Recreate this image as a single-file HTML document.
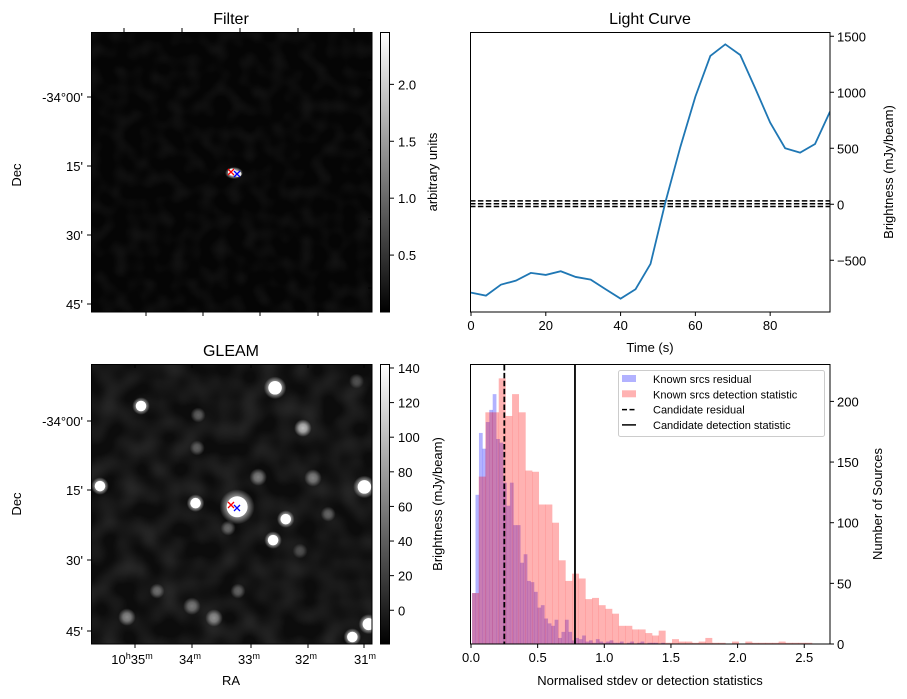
<!DOCTYPE html>
<html><head><meta charset="utf-8">
<style>
html,body{margin:0;padding:0;background:#fff;}
svg{display:block;font-family:"Liberation Sans","DejaVu Sans",sans-serif;}
text{fill:#000;}
</style></head>
<body>
<svg id="fig" width="907" height="699" viewBox="0 0 907 699" xmlns="http://www.w3.org/2000/svg">
<defs>
  <filter id="noiseF" x="0" y="0" width="100%" height="100%">
    <feTurbulence type="fractalNoise" baseFrequency="0.07" numOctaves="1" seed="3"/>
    <feColorMatrix type="matrix" values="0 0 0 0 1  0 0 0 0 1  0 0 0 0 1  1.1 0 0 0 -0.45"/>
  </filter>
  <filter id="noiseG" x="0" y="0" width="100%" height="100%">
    <feTurbulence type="fractalNoise" baseFrequency="0.05" numOctaves="1" seed="7"/>
    <feColorMatrix type="matrix" values="0 0 0 0 1  0 0 0 0 1  0 0 0 0 1  1.2 0 0 0 -0.4"/>
  </filter>
  <radialGradient id="blob">
    <stop offset="0" stop-color="#fff" stop-opacity="1"/>
    <stop offset="0.45" stop-color="#fff" stop-opacity="0.8"/>
    <stop offset="1" stop-color="#fff" stop-opacity="0"/>
  </radialGradient>
  <linearGradient id="cbar" x1="0" y1="1" x2="0" y2="0">
    <stop offset="0" stop-color="#000"/>
    <stop offset="1" stop-color="#fff"/>
  </linearGradient>
  <clipPath id="clipF"><rect x="91" y="32" width="281" height="280"/></clipPath>
  <clipPath id="clipG"><rect x="91" y="364" width="281" height="280"/></clipPath>
  <clipPath id="clipL"><rect x="470" y="32" width="360" height="280"/></clipPath>
</defs>
<g id="root"></g>
</svg>
<script>
// ---------------- data ----------------
const lcTimes = [0,4,8,12,16,20,24,28,32,36,40,44,48,52,56,60,64,68,72,76,80,84,88,92,96];
const lcBrightness = [-789,-816,-718,-682,-613,-631,-598,-649,-673,-759,-843,-759,-533,20,514,961,1324,1428,1333,1036,729,500,461,538,827];
const lcThresholds = [30,5,-20];
const lcXTicks = [0,20,40,60,80];
const lcYTicks = [1500,1000,500,0,-500];

const histRedStart = 0.008, histRedWidth = 0.05;
const histRedCounts = [42,138,191,191,219,188,206,191,143,142,115,115,100,69,52,58,54,37,38,32,29,25,15,15,12,12,9,7,11,1,4,2,2,1,2,5,1,1,0,2,0,2,1,1,1,1,2,1,1,1,1];
const histBlueStart = 0.008, histBlueWidth = 0.0258;
const histBlueCounts = [42,123,174,161,183,193,206,169,166,133,114,133,98,98,67,74,52,51,43,30,32,21,17,15,20,5,10,20,10,3,5,4,7,2,3,1,4,2,1,2,3,1,1,2,0,1,2,0,1,2,0,1,1,1,0,1];
const candResidual = 0.25;
const candDetection = 0.78;
const histXTicks = [0.0,0.5,1.0,1.5,2.0,2.5];
const histYTicks = [0,50,100,150,200];

// GLEAM sources: [ra-pixel-frac, dec-pixel-frac, radius, brightness]
const gleamSources = [
 [0.655,0.085,9,1.0],[0.178,0.150,7,0.95],[0.381,0.182,6,0.4],[0.754,0.229,7,0.85],
 [0.378,0.300,6,0.4],[0.945,0.061,6,0.3],[0.595,0.404,7,0.55],[0.790,0.407,7,0.55],
 [0.032,0.436,7,1.0],[0.973,0.439,9,1.0],[0.372,0.497,7,1.0],[0.520,0.510,14,1.0],
 [0.693,0.554,7,1.0],[0.844,0.536,6,0.4],[0.488,0.586,6,0.45],[0.648,0.629,7,1.0],
 [0.744,0.668,6,0.3],[0.235,0.811,6,0.45],[0.523,0.811,6,0.4],[0.359,0.865,7,0.5],
 [0.128,0.904,7,0.6],[0.438,0.907,7,0.6],[0.930,0.975,7,1.0],[0.988,0.929,8,1.0]
];
const gleamCbarTicks = [0,20,40,60,80,100,120,140];
const filterCbarTicks = [0.5,1.0,1.5,2.0];

// ---------------- helpers ----------------
const NS = "http://www.w3.org/2000/svg";
const root = document.getElementById('root');
function mk(tag, attrs, parent){
  const e = document.createElementNS(NS, tag);
  for (const k in attrs) e.setAttribute(k, attrs[k]);
  (parent||root).appendChild(e);
  return e;
}
function txt(x,y,s,size,anchor,parent,rot){
  const t = mk('text',{x:x,y:y,'font-size':size,'text-anchor':anchor||'middle'},parent);
  if (rot) t.setAttribute('transform','rotate('+rot+' '+x+' '+y+')');
  t.textContent = s;
  return t;
}

// ================= Filter panel =================
const gF = mk('g',{});


const fImg = mk('g',{'clip-path':'url(#clipF)'},gF);


mk('rect',{x:91,y:32,width:281,height:280,fill:'#050505'},fImg);
mk('rect',{x:91,y:32,width:281,height:280,filter:'url(#noiseF)',opacity:0.12},fImg);
mk('ellipse',{cx:234,cy:173,rx:9,ry:6,fill:'url(#blob)'},fImg);
mk('ellipse',{cx:232,cy:172,rx:4,ry:3.5,fill:'#fff'},fImg);
mk('ellipse',{cx:238,cy:174,rx:3.5,ry:3,fill:'#eee'},fImg);
function crosses(parent, rx, ry, bx, by){
  const r = mk('path',{d:`M${rx-3},${ry-3}L${rx+3},${ry+3}M${rx-3},${ry+3}L${rx+3},${ry-3}`,stroke:'red','stroke-width':1.3},parent);
  
  
  const b = mk('path',{d:`M${bx-3},${by-3}L${bx+3},${by+3}M${bx-3},${by+3}L${bx+3},${by-3}`,stroke:'blue','stroke-width':1.3},parent);
  
  
}
crosses(gF,231,172,237,174);
mk('rect',{x:91.5,y:32.5,width:280.5,height:279.5,fill:'none',stroke:'#000','stroke-width':1},gF);
txt(231,24,'Filter',16,'middle',gF);
txt(21,175,'Dec',13,'middle',gF,-90);
const decLabels = ["-34°00'","15'","30'","45'"];
const decY = [97,166,235,304];
decY.forEach((y,i)=>{
  mk('line',{x1:87,x2:91,y1:y,y2:y,stroke:'#000'},gF);
  txt(83,y+5,decLabels[i],13,'end',gF);
  mk('line',{x1:368,x2:372,y1:[80,150,219,288][i],y2:[80,150,219,288][i],stroke:'#000'},gF);
});
[124,182,240,298,354].forEach(x=>mk('line',{x1:x,x2:x,y1:28,y2:32,stroke:'#000'},gF));
[146,203,260,318].forEach(x=>mk('line',{x1:x,x2:x,y1:312,y2:316,stroke:'#000'},gF));
// colorbar
const cbF = mk('g',{},gF);


mk('rect',{x:380.5,y:32.5,width:9,height:279.5,fill:'url(#cbar)',stroke:'#000','stroke-width':1},cbF);
const fMin=0.0, fMax=2.46;
filterCbarTicks.forEach(v=>{
  const y = 312 - (v-fMin)/(fMax-fMin)*280;
  mk('line',{x1:390,x2:394,y1:y,y2:y,stroke:'#000'},cbF);
  txt(398,y+5,v.toFixed(1),13,'start',cbF);
});
txt(437,172,'arbitrary units',13,'middle',cbF,-90);

// ================= GLEAM panel =================
const gG = mk('g',{});


const gImg = mk('g',{'clip-path':'url(#clipG)'},gG);


mk('rect',{x:91,y:364,width:281,height:280,fill:'#0c0c0c'},gImg);
mk('rect',{x:91,y:364,width:281,height:280,filter:'url(#noiseG)',opacity:0.2},gImg);
const gx0=91,gy0=364,gw=281,gh=280;
gleamSources.forEach((s,i)=>{
  const cx = gx0 + s[0]*gw, cy = gy0 + s[1]*gh;
  const c = mk('circle',{cx:cx,cy:cy,r:s[2]*1.25,fill:'url(#blob)',opacity:s[3]*0.85},gImg);
  
  
  if (s[3]>=0.9) mk('circle',{cx:cx,cy:cy,r:s[2]*0.75,fill:'#fff'},gImg);
});
crosses(gG,231,505,237,508);
mk('rect',{x:91.5,y:364.5,width:280.5,height:279.5,fill:'none',stroke:'#000','stroke-width':1},gG);
txt(231,356,'GLEAM',16,'middle',gG);
txt(21,504,'Dec',13,'middle',gG,-90);
const decY2=[421,490,560,631];
decY2.forEach((y,i)=>{
  mk('line',{x1:87,x2:91,y1:y,y2:y,stroke:'#000'},gG);
  txt(83,y+5,decLabels[i],13,'end',gG);
});
const raX=[135,192,251,308,364];
raX.forEach(x=>{
  mk('line',{x1:x,x2:x,y1:644,y2:648,stroke:'#000'},gG);
  mk('line',{x1:x,x2:x,y1:364,y2:368,stroke:'#000'},gG);
});
function raLabel(x,h,m,par){
  const t = mk('text',{x:x,y:664,'font-size':13,'text-anchor':'middle'},par);
  if (h){ const a=mk('tspan',{},t); a.textContent='10'; const b=mk('tspan',{'font-size':9,dy:-5},t); b.textContent='h'; const c=mk('tspan',{'font-size':13,dy:5},t); c.textContent=m; }
  else { const a=mk('tspan',{},t); a.textContent=m; }
  const d=mk('tspan',{'font-size':9,dy:-5},t); d.textContent='m';
}
raLabel(132,true,'35',gG); raLabel(190,false,'34',gG); raLabel(249,false,'33',gG); raLabel(306,false,'32',gG); raLabel(365,false,'31',gG);
txt(231,685,'RA',13,'middle',gG);
const cbG = mk('g',{},gG);


mk('rect',{x:380.5,y:364.5,width:9,height:279.5,fill:'url(#cbar)',stroke:'#000','stroke-width':1},cbG);
const gMin=-19.5, gMax=142.3;
gleamCbarTicks.forEach(v=>{
  const y = 644 - (v-gMin)/(gMax-gMin)*280;
  mk('line',{x1:390,x2:394,y1:y,y2:y,stroke:'#000'},cbG);
  txt(398,y+5,String(v),13,'start',cbG);
});
txt(442,504,'Brightness (mJy/beam)',13,'middle',cbG,-90);

// ================= Light curve =================
const gL = mk('g',{});


const lx0=471, lx1=830, lyTop=32, lyBot=312;
const tMin=0, tMax=96, bMin=-962, bMax=1538;
const lxs = t => lx0 + (t-tMin)/(tMax-tMin)*(lx1-lx0);
const lys = v => lyBot - (v-bMin)/(bMax-bMin)*(lyBot-lyTop);
const lplot = mk('g',{'clip-path':'url(#clipL)'},gL);
lcThresholds.forEach(v=>{
  const l = mk('line',{x1:470,x2:830,y1:lys(v),y2:lys(v),stroke:'#000','stroke-width':1.5,'stroke-dasharray':'5.5,2.4'},lplot);
  
  
});
const lcPath = mk('polyline',{points:lcTimes.map((t,i)=>lxs(t)+','+lys(lcBrightness[i])).join(' '),fill:'none',stroke:'#1f77b4','stroke-width':1.8},lplot);


mk('rect',{x:470.5,y:32.5,width:359.5,height:279.5,fill:'none',stroke:'#000'},gL);
lcXTicks.forEach(t=>{
  const x=lxs(t);
  mk('line',{x1:x,x2:x,y1:312,y2:316,stroke:'#000'},gL);
  txt(x,330,String(t),13,'middle',gL);
});
lcYTicks.forEach(v=>{
  const y=lys(v);
  mk('line',{x1:830,x2:834,y1:y,y2:y,stroke:'#000'},gL);
  txt(837,y+5,v<0?'−'+Math.abs(v):String(v),13,'start',gL);
});
txt(650,24,'Light Curve',16,'middle',gL);
txt(650,352,'Time (s)',13,'middle',gL);
txt(893,172,'Brightness (mJy/beam)',13,'middle',gL,-90);

// ================= Histogram =================
const gH = mk('g',{});


const hx0=471, hyBot=644, hyTop=365;
const hxs = v => hx0 + v*133.3;
const hys = c => hyBot - c*1.213;
histBlueCounts.forEach((c,i)=>{
  const x0=hxs(histBlueStart+i*histBlueWidth), x1=hxs(histBlueStart+(i+1)*histBlueWidth);
  const r = mk('rect',{x:x0,y:hys(c),width:x1-x0+0.3,height:hyBot-hys(c),fill:'#0000ff','fill-opacity':0.3},gH);
  
  
});
histRedCounts.forEach((c,i)=>{
  const x0=hxs(histRedStart+i*histRedWidth), x1=hxs(histRedStart+(i+1)*histRedWidth);
  const r = mk('rect',{x:x0,y:hys(c),width:x1-x0+0.3,height:hyBot-hys(c),fill:'#ff0000','fill-opacity':0.3},gH);
  
  
});
const cr = mk('line',{x1:hxs(candResidual),x2:hxs(candResidual),y1:hyTop,y2:hyBot,stroke:'#000','stroke-width':1.8,'stroke-dasharray':'5.5,2.4'},gH);


const cd = mk('line',{x1:hxs(candDetection),x2:hxs(candDetection),y1:hyTop,y2:hyBot,stroke:'#000','stroke-width':1.8},gH);


mk('rect',{x:470.5,y:364.5,width:359.5,height:279.5,fill:'none',stroke:'#000'},gH);
histXTicks.forEach(v=>{
  const x=hxs(v);
  mk('line',{x1:x,x2:x,y1:644,y2:648,stroke:'#000'},gH);
  txt(x,662,v.toFixed(1),13,'middle',gH);
});
histYTicks.forEach(c=>{
  const y=hys(c);
  mk('line',{x1:830,x2:834,y1:y,y2:y,stroke:'#000'},gH);
  txt(837,y+5,String(c),13,'start',gH);
});
txt(650,685,'Normalised stdev or detection statistics',13,'middle',gH);
txt(882,504,'Number of Sources',13,'middle',gH,-90);
// legend
const lg = mk('g',{},gH);


mk('rect',{x:618.5,y:370.5,width:206,height:66,rx:2,fill:'#fff','fill-opacity':0.8,stroke:'#ccc'},lg);
const legItems=[['Known srcs residual','blue'],['Known srcs detection statistic','red'],['Candidate residual','dash'],['Candidate detection statistic','solid']];
legItems.forEach((it,i)=>{
  const y=379+i*15.3;
  const e = mk('g',{},lg);
  
  
  if (it[1]==='blue') mk('rect',{x:622,y:y-4,width:14,height:7,fill:'#0000ff','fill-opacity':0.3},e);
  else if (it[1]==='red') mk('rect',{x:622,y:y-4,width:14,height:7,fill:'#ff0000','fill-opacity':0.3},e);
  else if (it[1]==='dash') mk('line',{x1:622,x2:636,y1:y,y2:y,stroke:'#000','stroke-width':1.5,'stroke-dasharray':'5,2.5'},e);
  else mk('line',{x1:622,x2:636,y1:y,y2:y,stroke:'#000','stroke-width':1.5},e);
  txt(653,y+4,it[0],11,'start',e);
});
</script>
</body></html>
